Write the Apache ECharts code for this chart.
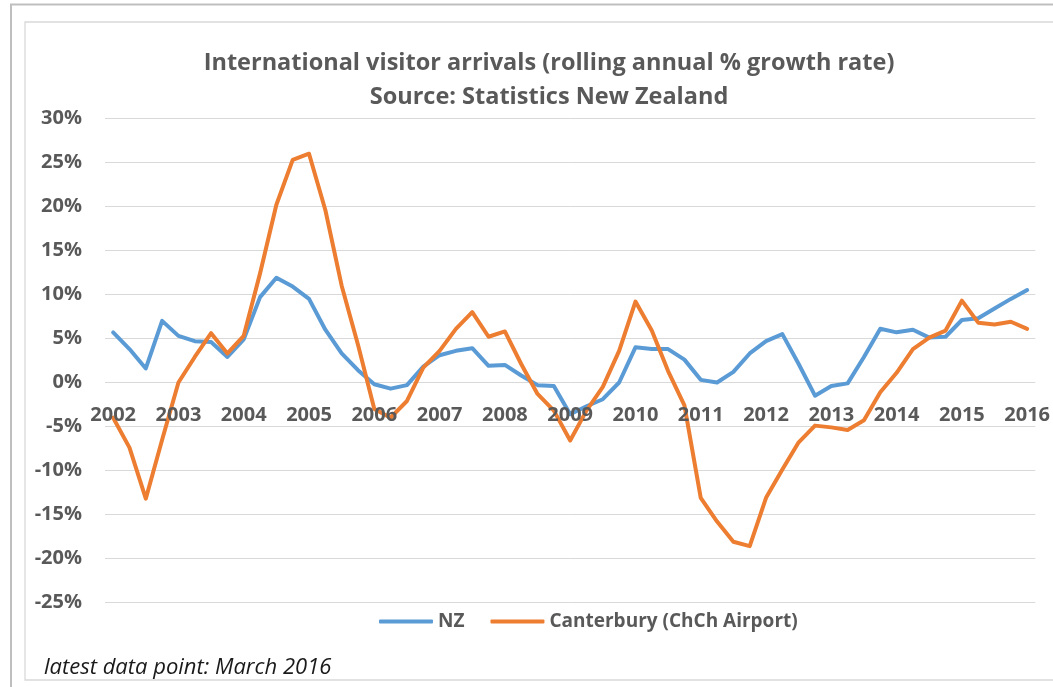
<!DOCTYPE html>
<html>
<head>
<meta charset="utf-8">
<script src="https://cdn.jsdelivr.net/npm/echarts@6/dist/echarts.min.js"></script>
<style>
  html, body { margin: 0; padding: 0; background: #ffffff; }
  #chart { width: 1053px; height: 687px; }
</style>
</head>
<body>
<div id="chart"></div>
<script>
// Years shown on the horizontal axis (one label per March quarter)
const yearLabels = ['2002', '2003', '2004', '2005', '2006', '2007', '2008', '2009',
                    '2010', '2011', '2012', '2013', '2014', '2015', '2016'];
const quarterMonths = ['Mar', 'Jun', 'Sep', 'Dec'];

// Rolling annual % growth in international visitor arrivals, quarterly Mar 2002 – Mar 2016
const nzGrowth = [
  5.7, 3.8, 1.6, 7.0,
  5.3, 4.7, 4.6, 2.9,
  4.9, 9.7, 11.9, 10.9,
  9.5, 6.0, 3.3, 1.4,
  -0.2, -0.7, -0.3, 1.8,
  3.1, 3.6, 3.9, 1.9,
  2.0, 0.8, -0.3, -0.4,
  -3.6, -2.7, -1.9, 0.0,
  4.0, 3.8, 3.8, 2.6,
  0.3, 0.0, 1.2, 3.3,
  4.7, 5.5, 2.1, -1.5,
  -0.4, -0.1, 2.9, 6.1,
  5.7, 6.0, 5.1, 5.2,
  7.1, 7.3, 8.4, 9.5,
  10.5
];
const canterburyGrowth = [
  -4.0, -7.4, -13.2, -6.5,
  0.0, 2.9, 5.6, 3.3,
  5.3, 12.4, 20.2, 25.3,
  26.0, 19.6, 11.0, 4.3,
  -3.0, -4.0, -2.1, 1.7,
  3.6, 6.1, 8.0, 5.2,
  5.8, 2.1, -1.3, -3.2,
  -6.6, -3.2, -0.5, 3.6,
  9.2, 5.9, 1.3, -2.6,
  -13.1, -15.8, -18.1, -18.6,
  -13.1, -9.9, -6.8, -4.9,
  -5.1, -5.4, -4.3, -1.1,
  1.1, 3.8, 5.1, 5.9,
  9.3, 6.8, 6.6, 6.9,
  6.1
];

const seriesNames = ['NZ', 'Canterbury (ChCh Airport)'];

// Quarter categories, e.g. "Mar 2002"
const categories = [];
for (const y of yearLabels) {
  for (const m of quarterMonths) {
    if (categories.length < nzGrowth.length) categories.push(m + ' ' + y);
  }
}

const FONT = '"Open Sans", Lato, sans-serif';
const TEXT_GREY = '#595959';

// plot area geometry
const GRID_TOP = 118.5;
const GRID_BOTTOM = 84.5;
const Y_MIN = -25, Y_MAX = 30;
const plotHeight = 687 - GRID_TOP - GRID_BOTTOM;
// shift the category axis up so it sits on the 0% line
const zeroOffset = -plotHeight * (0 - Y_MIN) / (Y_MAX - Y_MIN);

const chart = echarts.init(document.getElementById('chart'), null, { renderer: 'canvas' });

chart.setOption({
  animation: false,
  backgroundColor: '#ffffff',
  grid: { left: 105, right: 12, top: GRID_TOP, bottom: GRID_BOTTOM, containLabel: false },
  xAxis: {
    type: 'category',
    data: categories,
    boundaryGap: true,
    position: 'bottom',
    offset: zeroOffset,
    z: 5,
    axisLine: { show: false, onZero: false },
    axisTick: { show: false },
    axisLabel: {
      interval: 3,
      margin: 23,
      formatter: v => v.split(' ')[1],
      color: TEXT_GREY,
      fontFamily: FONT,
      fontWeight: 'bold',
      fontSize: 20
    },
    splitLine: { show: false }
  },
  yAxis: {
    type: 'value',
    min: Y_MIN,
    max: Y_MAX,
    interval: 5,
    axisLine: { show: false },
    axisTick: { show: false },
    axisLabel: {
      formatter: '{value}%',
      margin: 23,
      color: TEXT_GREY,
      fontFamily: FONT,
      fontWeight: 'bold',
      fontSize: 20
    },
    splitLine: { lineStyle: { color: '#d9d9d9', width: 1 } }
  },
  legend: {
    data: seriesNames,
    left: 374,
    top: 607,
    icon: 'roundRect',
    itemWidth: 54,
    itemHeight: 4,
    itemGap: 26,
    textStyle: { color: TEXT_GREY, fontFamily: FONT, fontWeight: 'bold', fontSize: 19 }
  },
  series: [
    {
      name: seriesNames[0],
      type: 'line',
      data: nzGrowth,
      showSymbol: false,
      color: '#5b9bd5',
      lineStyle: { width: 4, color: '#5b9bd5', join: 'round', cap: 'round' }
    },
    {
      name: seriesNames[1],
      type: 'line',
      data: canterburyGrowth,
      showSymbol: false,
      color: '#ed7d31',
      lineStyle: { width: 4, color: '#ed7d31', join: 'round', cap: 'round' }
    }
  ],
  graphic: [
    // outer frame
    {
      type: 'rect', z: -10, silent: true,
      shape: { x: 11, y: 4.5, width: 1100, height: 750 },
      style: { fill: 'none', stroke: '#bfbfbf', lineWidth: 2 }
    },
    // chart area frame
    {
      type: 'rect', z: -10, silent: true,
      shape: { x: 25, y: 22, width: 1100, height: 658 },
      style: { fill: 'none', stroke: '#d9d9d9', lineWidth: 1.3 }
    },
    {
      type: 'text', silent: true,
      style: {
        x: 549, y: 46,
        text: 'International visitor arrivals (rolling annual % growth rate)\nSource: Statistics New Zealand',
        textAlign: 'center',
        textVerticalAlign: 'top',
        fill: TEXT_GREY,
        font: 'bold 23.5px ' + FONT,
        lineHeight: 34
      }
    },
    {
      type: 'text', silent: true,
      style: {
        x: 44, y: 668,
        text: 'latest data point: March 2016',
        textAlign: 'left',
        textVerticalAlign: 'middle',
        fill: '#1a1a1a',
        font: 'italic 22px ' + FONT
      }
    }
  ]
});
</script>
</body>
</html>
